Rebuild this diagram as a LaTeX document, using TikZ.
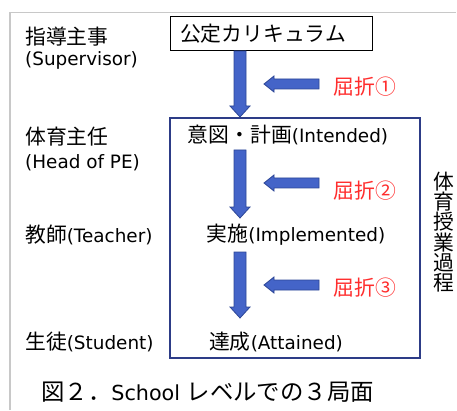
\documentclass[tikz,border=0pt]{standalone}
\usepackage{fontspec}
\setmainfont{DejaVu Sans}[Scale=0.92]
\newfontfamily\jp{Noto Sans CJK JP}[Scale=1.04]
\definecolor{arrowblue}{RGB}{68,100,200}
\definecolor{arrowedge}{RGB}{45,70,150}
\definecolor{boxblue}{RGB}{45,60,135}
\definecolor{refred}{RGB}{255,45,45}
\definecolor{framegray}{RGB}{200,200,200}
\newcommand\bigdownarrow[3]{% x, top y, tip y
  \filldraw[blockarrow] (#1-6,#2) -- (#1+6,#2) -- (#1+6,#3+11) -- (#1+10,#3+11)
    -- (#1,#3) -- (#1-10,#3+11) -- (#1-6,#3+11) -- cycle;}
\newcommand\smallleftarrow[3]{% tail x, tip x, y
  \filldraw[blockarrow] (#1,#3-5) -- (#1,#3+5) -- (#2+10,#3+5) -- (#2+10,#3+8)
    -- (#2,#3) -- (#2+10,#3-8) -- (#2+10,#3-5) -- cycle;}
\begin{document}
\begin{tikzpicture}[x=1pt,y=1pt,
  font=\fontsize{20}{22}\selectfont,
  blockarrow/.style={fill=arrowblue, draw=arrowedge, line width=0.8pt},
  rolelbl/.style={anchor=west, inner sep=0pt},
  stagelbl/.style={anchor=center, inner sep=0pt},
  bendlbl/.style={anchor=center, inner sep=0pt, text=refred, font=\jp\fontsize{20}{22}\selectfont}]
\useasboundingbox (0,0) rectangle (457,410);
\draw[framegray, line width=1.2pt] (10,0) -- (10,397.5) -- (456,397.5);

% boxes
\node[draw=black, line width=1pt, minimum width=202pt, minimum height=34pt, inner sep=0pt] (oc) at (271,376) {};
\node[inner sep=0pt, font=\jp\fontsize{20}{22}\selectfont] (octext) at (263,376) {公定カリキュラム};
\node[draw=boxblue, line width=1.3pt, minimum width=250pt, minimum height=240pt, inner sep=0pt] (pe) at (295,172) {};

% stage labels
\node[stagelbl] (int) at (288,275) {{\jp 意図・計画}(Intended)};
\node[stagelbl] (imp) at (296,175) {{\jp 実施}(Implemented)};
\node[stagelbl] (att) at (276,68) {{\jp 達成}(Attained)};

% big arrows
\bigdownarrow{240}{359}{293}
\bigdownarrow{240}{260}{192}
\bigdownarrow{240}{158}{92}

% small arrows and labels
\smallleftarrow{319}{264}{326}
\smallleftarrow{319}{264}{227}
\smallleftarrow{319}{264}{125}
\node[bendlbl] (b1) at (365,323) {屈折①};
\node[bendlbl] (b2) at (365,219) {屈折②};
\node[bendlbl] (b3) at (365,122) {屈折③};

% role labels
\node[rolelbl] (sup1) at (25,373) {\jp 指導主事};
\node[rolelbl] (sup2) at (25,350) {(Supervisor)};
\node[rolelbl] (hpe1) at (25,273) {\jp 体育主任};
\node[rolelbl] (hpe2) at (25,247) {(Head of PE)};
\node[rolelbl] (tea) at (25,175) {{\jp 教師}(Teacher)};
\node[rolelbl] (stu) at (25,68) {{\jp 生徒}(Student)};

% vertical text
\node[align=center, inner sep=0pt, font=\jp\fontsize{20}{20.3}\selectfont] (vert) at (444,178)
  {体\\育\\授\\業\\過\\程};

% caption
\node[anchor=west, inner sep=0pt, font=\fontsize{22.5}{24}\selectfont] (cap) at (41,18)
  {{\jp 図２．}School {\jp レベルでの３局面}};
\end{tikzpicture}
\end{document}
